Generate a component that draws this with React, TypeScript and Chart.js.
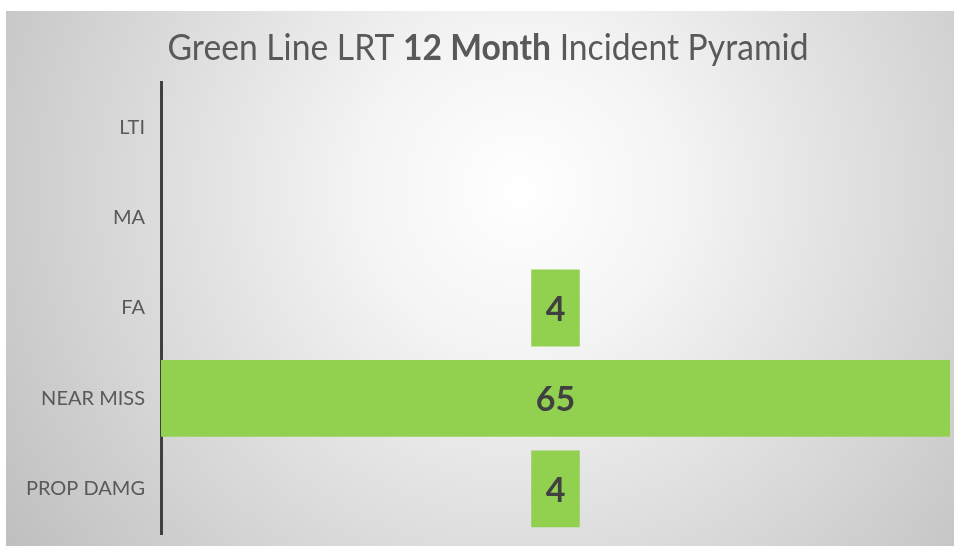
import React, { useEffect, useRef } from "react";
import { Chart, registerables } from "chart.js";

Chart.register(...registerables);

const categories = ["LTI", "MA", "FA", "NEAR MISS", "PROP DAMG"];
const counts = [0, 0, 4, 65, 4];
const titleParts = [
  { text: "Green Line LRT ", bold: false },
  { text: "12 Month", bold: true },
  { text: " Incident Pyramid", bold: false },
];
const maxCount = 65;

const FONT = "Lato, 'Open Sans', sans-serif";

const backgroundPlugin = {
  id: "bgPlugin",
  beforeDraw(chart: any) {
    const { ctx, width, height } = chart;
    ctx.save();
    ctx.fillStyle = "#ffffff";
    ctx.fillRect(0, 0, width, height);
    const g = ctx.createRadialGradient(520, 190, 0, 520, 190, 640);
    g.addColorStop(0, "#ffffff");
    g.addColorStop(0.25, "#f4f4f4");
    g.addColorStop(1, "#bdbdbd");
    ctx.fillStyle = g;
    ctx.fillRect(6, 11, width - 6, height - 11);
    ctx.restore();
  },
};

const titlePlugin = {
  id: "titlePlugin",
  afterDraw(chart: any) {
    const { ctx } = chart;
    ctx.save();
    const size = 36;
    const sx = 0.935;
    const fonts = titleParts.map((p) => `${p.bold ? "bold " : ""}${size}px ${FONT}`);
    let total = 0;
    const widths = titleParts.map((p, i) => {
      ctx.font = fonts[i];
      const w = ctx.measureText(p.text).width;
      total += w;
      return w;
    });
    ctx.translate(488, 60);
    ctx.scale(sx, 1);
    let x = -total / 2;
    ctx.fillStyle = "#595959";
    ctx.textBaseline = "alphabetic";
    ctx.textAlign = "left";
    titleParts.forEach((p, i) => {
      ctx.font = fonts[i];
      ctx.fillText(p.text, x, 0);
      x += widths[i];
    });
    ctx.restore();
  },
};

const valueLabelPlugin = {
  id: "valueLabels",
  afterDatasetsDraw(chart: any) {
    const { ctx } = chart;
    const meta = chart.getDatasetMeta(0);
    ctx.save();
    ctx.font = `bold 34px ${FONT}`;
    ctx.fillStyle = "#404040";
    ctx.textAlign = "center";
    ctx.textBaseline = "middle";
    meta.data.forEach((bar: any, i: number) => {
      if (counts[i] > 0) {
        const cx = (bar.x + bar.base) / 2;
        ctx.fillText(String(counts[i]), cx, bar.y + 2);
      }
    });
    ctx.restore();
  },
};

export default function App() {
  const ref = useRef<HTMLCanvasElement>(null);
  useEffect(() => {
    if (!ref.current) return;
    const chart = new Chart(ref.current, {
      type: "bar",
      data: {
        labels: categories,
        datasets: [
          {
            data: counts.map((v) => [-v / 2, v / 2]) as any,
            backgroundColor: "#92D050",
            borderWidth: 0,
            categoryPercentage: 1,
            barPercentage: 0.85,
          },
        ],
      },
      options: {
        indexAxis: "y",
        animation: false,
        responsive: false,
        maintainAspectRatio: false,
        layout: { autoPadding: false, padding: { top: 82, bottom: 10, left: 0, right: 4 } },
        plugins: {
          legend: { display: false },
          tooltip: { enabled: false },
          title: { display: false },
        },
        scales: {
          x: {
            display: false,
            min: -maxCount / 2,
            max: maxCount / 2,
            ticks: { display: false },
            grid: { display: false, drawTicks: false },
            border: { display: false },
          },
          y: {
            grid: { display: false, drawTicks: false },
            border: { display: true, color: "#404040", width: 3 },
            ticks: {
              color: "#595959",
              padding: 16,
              font: { family: FONT, size: 20 },
            },
            afterFit(scale: any) {
              scale.width = 161;
            },
          },
        },
      },
      plugins: [backgroundPlugin, titlePlugin, valueLabelPlugin],
    });
    return () => chart.destroy();
  }, []);
  return (
    <div
      style={{
        position: "fixed",
        left: 0,
        top: 0,
        width: 954,
        height: 546,
        overflow: "hidden",
      }}
    >
      <canvas ref={ref} width={954} height={562} style={{ display: "block" }} />
    </div>
  );
}
